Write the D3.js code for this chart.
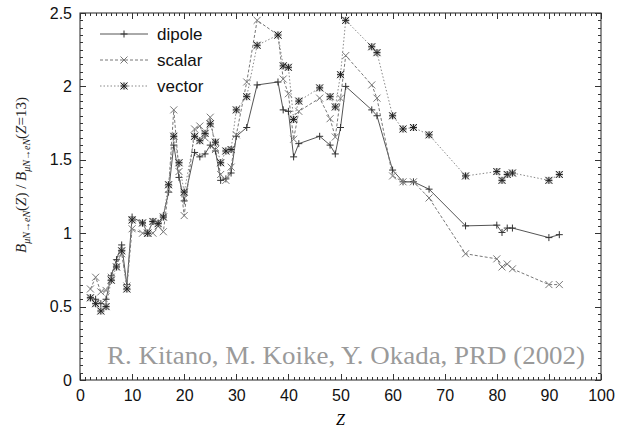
<!DOCTYPE html>
<html>
<head>
<meta charset="utf-8">
<script src="https://cdn.jsdelivr.net/npm/d3@7"></script>
<style>
  body { margin: 0; background: #fff; }
  svg { display: block; }
  .tick text { font-family: "Liberation Sans", Arial, sans-serif; font-size: 16px; fill: #111; }
</style>
</head>
<body>
<div id="container"><svg></svg></div>
<script>
let width = 617;
let height = 431;

// nuclear charge Z of each target
let zValues = [2, 3, 4, 5, 6, 7, 8, 9, 10, 12, 13, 14, 15, 16, 17, 18, 19, 20, 22, 23, 24, 25, 26, 27, 28, 29, 30,
    32, 34, 38, 39, 40, 41, 42, 46, 48, 49, 50, 51, 56, 57, 60, 62, 64, 67, 74, 80, 81, 82, 83, 90, 92];

let dipole = [0.56, 0.55, 0.52, 0.55, 0.71, 0.82, 0.92, 0.65, 1.11, 1.07, 1.00, 1.08, 1.07, 1.12, 1.28, 1.60, 1.38, 1.22,
    1.55, 1.52, 1.54, 1.60, 1.56, 1.36, 1.37, 1.41, 1.66, 1.72, 2.01, 2.03, 1.84, 1.83, 1.52, 1.61, 1.66, 1.60, 1.54,
    1.72, 2.00, 1.84, 1.80, 1.43, 1.35, 1.35, 1.30, 1.05, 1.055, 1.005, 1.035, 1.035, 0.97, 0.99];

let scalar = [0.62, 0.70, 0.60, 0.61, 0.70, 0.80, 0.86, 0.64, 1.03, 1.00, 1.00, 1.00, 1.05, 1.01, 1.30, 1.84, 1.42, 1.12,
    1.71, 1.73, 1.65, 1.79, 1.57, 1.40, 1.36, 1.45, 1.67, 2.03, 2.45, 2.35, 2.05, 1.95, 1.64, 1.83, 1.92, 1.78, 1.655,
    1.92, 2.21, 2.01, 1.92, 1.39, 1.35, 1.35, 1.24, 0.86, 0.825, 0.77, 0.79, 0.757, 0.65, 0.65];

let vector = [0.56, 0.52, 0.47, 0.50, 0.68, 0.77, 0.88, 0.62, 1.09, 1.07, 1.00, 1.08, 1.065, 1.11, 1.33, 1.66, 1.48, 1.28,
    1.66, 1.63, 1.68, 1.745, 1.62, 1.48, 1.56, 1.57, 1.84, 1.93, 2.28, 2.35, 2.14, 2.13, 1.775, 1.90, 1.99, 1.93, 1.86,
    2.08, 2.45, 2.27, 2.23, 1.80, 1.71, 1.72, 1.67, 1.39, 1.42, 1.36, 1.40, 1.41, 1.36, 1.40];

let seriesNames = ['dipole', 'scalar', 'vector'];
let xTicks = [0, 10, 20, 30, 40, 50, 60, 70, 80, 90, 100];
let yTicks = [0, 0.5, 1, 1.5, 2, 2.5];
let credit = 'R. Kitano, M. Koike, Y. Okada, PRD (2002)';

let padding = { left: 80, right: 16, top: 13, bottom: 51 };

let svg = d3.select('#container').select('svg')
    .attr('width', width)
    .attr('height', height);

let x = d3.scaleLinear().domain([0, 100]).range([padding.left, width - padding.right]);
let y = d3.scaleLinear().domain([0, 2.5]).range([height - padding.bottom, padding.top]);

// frame
svg.append('rect')
    .attr('x', x(0)).attr('y', y(2.5))
    .attr('width', x(100) - x(0)).attr('height', y(0) - y(2.5))
    .attr('fill', 'none').attr('stroke', '#222').attr('stroke-width', 1);

// minor ticks on all four sides
let xMinor = d3.range(0, 101, 1).filter(d => d % 10 != 0);
let yMinor = d3.range(0, 2.501, 0.05).filter(d => Math.abs(d * 2 - Math.round(d * 2)) > 1e-6);
let tickColor = '#333';

function sideTicks(data, scale, len, horiz) {
    let g = svg.append('g').attr('stroke', tickColor).attr('stroke-width', 1);
    data.forEach(d => {
        if (horiz) {
            let px = Math.round(scale(d)) + 0.5;
            g.append('line').attr('x1', px).attr('x2', px).attr('y1', y(0)).attr('y2', y(0) - len);
            g.append('line').attr('x1', px).attr('x2', px).attr('y1', y(2.5)).attr('y2', y(2.5) + len);
        } else {
            let py = Math.round(scale(d)) + 0.5;
            g.append('line').attr('y1', py).attr('y2', py).attr('x1', x(0)).attr('x2', x(0) + len);
            g.append('line').attr('y1', py).attr('y2', py).attr('x1', x(100)).attr('x2', x(100) - len);
        }
    });
}
sideTicks(xMinor, x, 3, true);
sideTicks(yMinor, y, 3, false);
sideTicks(xTicks, x, 6, true);
sideTicks(yTicks, y, 6, false);

// axes labels via d3 axes (domain and tick lines hidden, frame drawn above)
let axis_x = d3.axisBottom(x).tickValues(xTicks).tickSize(0).tickPadding(10).tickFormat(d => d);
svg.append('g')
    .attr('transform', `translate(0, ${y(0)})`)
    .call(axis_x)
    .call(g => g.select('.domain').remove());

let axis_y = d3.axisLeft(y).tickValues(yTicks).tickSize(0).tickPadding(8).tickFormat(d => d);
svg.append('g')
    .attr('transform', `translate(${x(0)}, 0)`)
    .call(axis_y)
    .call(g => g.select('.domain').remove());

// x axis title
svg.append('text')
    .attr('x', (x(0) + x(100)) / 2)
    .attr('y', 425)
    .attr('text-anchor', 'middle')
    .attr('font-family', '"Liberation Serif", "Times New Roman", serif')
    .attr('font-style', 'italic')
    .attr('font-size', 16)
    .text('Z');

// y axis title
let yt = svg.append('text')
    .attr('transform', `translate(26, 175) rotate(-90)`)
    .attr('text-anchor', 'middle')
    .attr('font-family', '"Liberation Serif", "Times New Roman", serif')
    .attr('font-size', 15)
    .attr('fill', '#222');
function bPart(t, zText) {
    t.append('tspan').attr('font-style', 'italic').text('B');
    t.append('tspan').attr('font-style', 'italic').attr('font-size', 10).attr('dy', 4).text('μN→eN');
    t.append('tspan').attr('dy', -4).text('(');
    t.append('tspan').attr('font-style', 'italic').text('Z');
    t.append('tspan').text(zText);
}
bPart(yt, ')');
yt.append('tspan').text(' / ');
bPart(yt, '=13)');

// credit
svg.append('text')
    .attr('x', 107)
    .attr('y', 364)
    .attr('textLength', 478)
    .attr('lengthAdjust', 'spacingAndGlyphs')
    .attr('font-family', '"Liberation Serif", "Times New Roman", serif')
    .attr('font-size', 25)
    .attr('fill', '#9a9a9a')
    .text(credit);

// series
let styles = {
    dipole: { stroke: '#555', dash: null, width: 1 },
    scalar: { stroke: '#777', dash: '3,2', width: 1 },
    vector: { stroke: '#888', dash: '1.5,2', width: 1 }
};
let seriesData = { dipole: dipole, scalar: scalar, vector: vector };

let line = d3.line().x(d => x(d[0])).y(d => y(d[1]));

function marker(g, name, cx, cy) {
    let s = 3.5;
    let m = g.append('g').attr('transform', `translate(${cx},${cy})`).attr('fill', 'none');
    if (name == 'dipole') {
        m.append('path').attr('d', `M${-s},0H${s}M0,${-s}V${s}`).attr('stroke', '#333');
    } else if (name == 'scalar') {
        m.append('path').attr('d', `M${-s},${-s}L${s},${s}M${-s},${s}L${s},${-s}`).attr('stroke', '#777');
    } else {
        m.append('rect').attr('x', -s).attr('y', -s).attr('width', 2 * s).attr('height', 2 * s)
            .attr('fill', '#bbb').attr('opacity', 0.6);
        m.append('path').attr('d', `M${-s},0H${s}M0,${-s}V${s}M${-s},${-s}L${s},${s}M${-s},${s}L${s},${-s}`)
            .attr('stroke', '#222');
    }
}

seriesNames.forEach(name => {
    let pts = zValues.map((z, i) => [z, seriesData[name][i]]);
    let st = styles[name];
    svg.append('path')
        .datum(pts)
        .attr('d', line)
        .attr('fill', 'none')
        .attr('stroke', st.stroke)
        .attr('stroke-width', st.width)
        .attr('stroke-dasharray', st.dash);
    let g = svg.append('g');
    pts.forEach(p => marker(g, name, x(p[0]), y(p[1])));
});

// legend
seriesNames.forEach((name, i) => {
    let ly = 34 + i * 26;
    let st = styles[name];
    svg.append('line')
        .attr('x1', 100).attr('x2', 148).attr('y1', ly).attr('y2', ly)
        .attr('stroke', st.stroke).attr('stroke-width', st.width)
        .attr('stroke-dasharray', st.dash);
    marker(svg, name, 124, ly);
    svg.append('text')
        .attr('x', 157).attr('y', ly + 6)
        .attr('font-family', '"Liberation Sans", Arial, sans-serif')
        .attr('font-size', 17)
        .attr('fill', '#111')
        .text(name);
});
</script>
</body>
</html>
